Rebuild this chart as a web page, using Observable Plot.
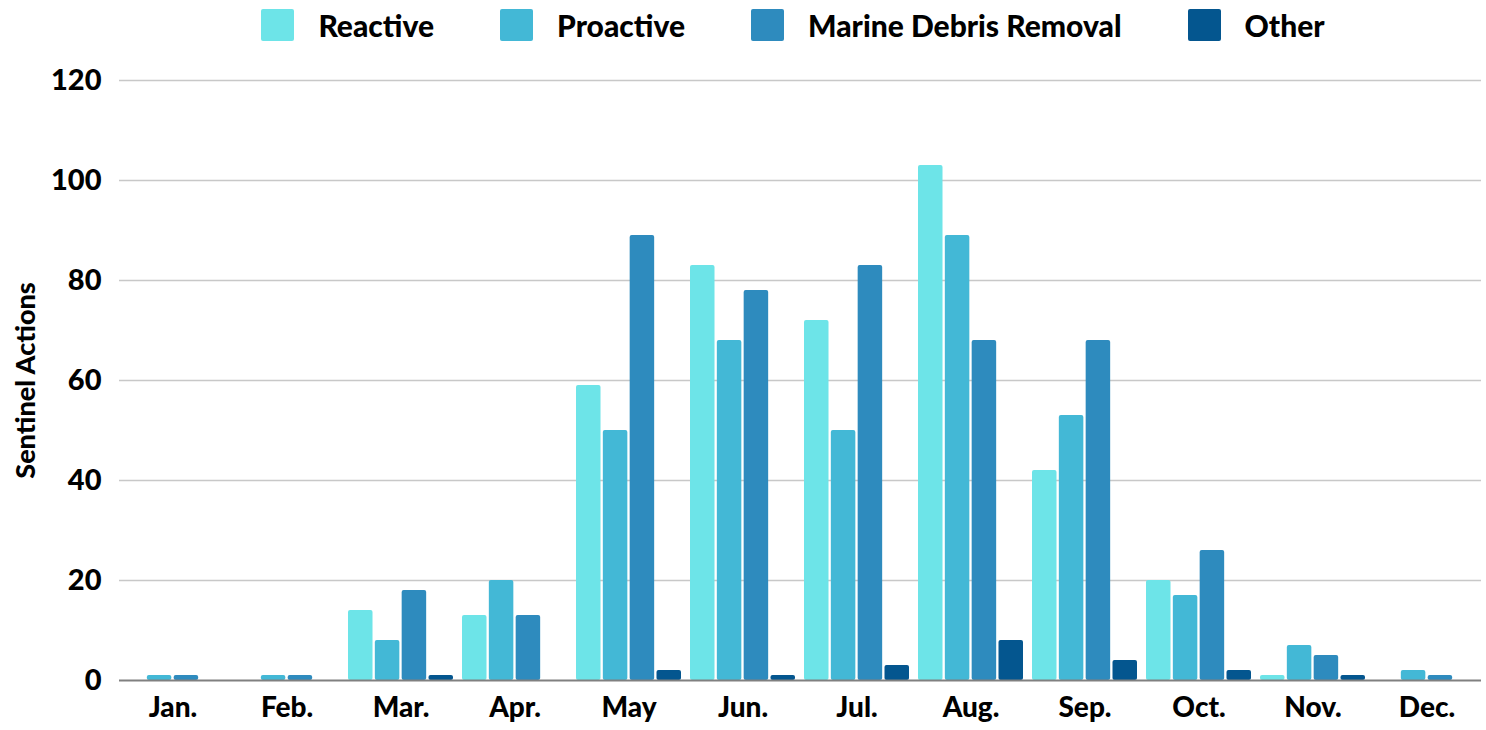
<!DOCTYPE html>
<html>
<head>
<meta charset="utf-8">
<script src="https://cdn.jsdelivr.net/npm/d3@7"></script>
<script src="https://cdn.jsdelivr.net/npm/@observablehq/plot@0.6"></script>
<style>
  html, body { margin: 0; padding: 0; background: #fff; }
  body { width: 1486px; height: 730px; overflow: hidden; font-family: Lato, "Open Sans", sans-serif; }
  #legend { height: 50px; display: flex; align-items: center; justify-content: center; padding-left: 100px; box-sizing: border-box; gap: 66px; }
  .item { display: flex; align-items: center; gap: 24px; font-size: 30px; font-weight: 900; color: #000; }
  .sw { width: 33px; height: 32px; border-radius: 2px; }
  #chart svg text { font-family: Lato, "Open Sans", sans-serif; font-weight: 900; }
</style>
</head>
<body>
<div id="legend"></div>
<div id="chart"></div>
<script>
const months = ["Jan.", "Feb.", "Mar.", "Apr.", "May", "Jun.", "Jul.", "Aug.", "Sep.", "Oct.", "Nov.", "Dec."];
const seriesNames = ["Reactive", "Proactive", "Marine Debris Removal", "Other"];
const reactive     = [0, 0, 14, 13, 59, 83, 72, 103, 42, 20, 1, 0];
const proactive    = [1, 1, 8, 20, 50, 68, 50, 89, 53, 17, 7, 2];
const marineDebris = [1, 1, 18, 13, 89, 78, 83, 68, 68, 26, 5, 1];
const other        = [0, 0, 1, 0, 2, 1, 3, 8, 4, 2, 1, 0];
const colors = ["#6de4e8", "#43b8d6", "#2e8bbe", "#04568f"];
const yTicks = [0, 20, 40, 60, 80, 100, 120];

const seriesValues = [reactive, proactive, marineDebris, other];
const data = [];
seriesNames.forEach((s, i) => months.forEach((m, j) => data.push({month: m, series: s, value: seriesValues[i][j]})));

// legend
const legend = document.getElementById("legend");
seriesNames.forEach((s, i) => {
  const it = document.createElement("div");
  it.className = "item";
  it.innerHTML = `<span class="sw" style="background:${colors[i]}"></span><span>${s}</span>`;
  legend.appendChild(it);
});

const W = 1486, mL = 119, mR = 5;
const padInner = 0.078;
const step = (W - mL - mR) / (months.length - padInner);
const bw = step * (1 - padInner);
const gap = 2;
const barW = (bw - 3 * gap) / 4;

const barMarks = seriesNames.map((s, i) => Plot.barY(data.filter(d => d.series === s), {
  x: "month", y: "value", fill: colors[i], rx: 2,
  insetLeft: i * (barW + gap), insetRight: (3 - i) * (barW + gap)
}));

const chart = Plot.plot({
  width: W, height: 680,
  marginLeft: mL, marginRight: mR, marginTop: 30, marginBottom: 50,
  x: {type: "band", domain: months, paddingInner: padInner, paddingOuter: 0, label: null},
  y: {domain: [0, 120], label: null},
  style: {fontSize: "29px", color: "#000", background: "#fff"},
  marks: [
    Plot.ruleY(yTicks.filter(t => t > 0), {stroke: "#c8c8c8", strokeWidth: 1.5}),
    ...barMarks,
    Plot.ruleY([0], {stroke: "#808080", strokeWidth: 2}),
    Plot.axisY({ticks: yTicks, tickSize: 0, tickPadding: 18, fontSize: 29,
      label: "Sentinel Actions", labelAnchor: "center", labelOffset: 104, labelArrow: "none"}),
    Plot.axisX({tickSize: 0, tickPadding: 17, fontSize: 28, label: null})
  ]
});
document.getElementById("chart").appendChild(chart);
// y-axis label size
chart.querySelectorAll("text").forEach(t => {
  if (t.textContent.trim() === "Sentinel Actions") t.style.fontSize = "27px";
});
</script>
</body>
</html>
